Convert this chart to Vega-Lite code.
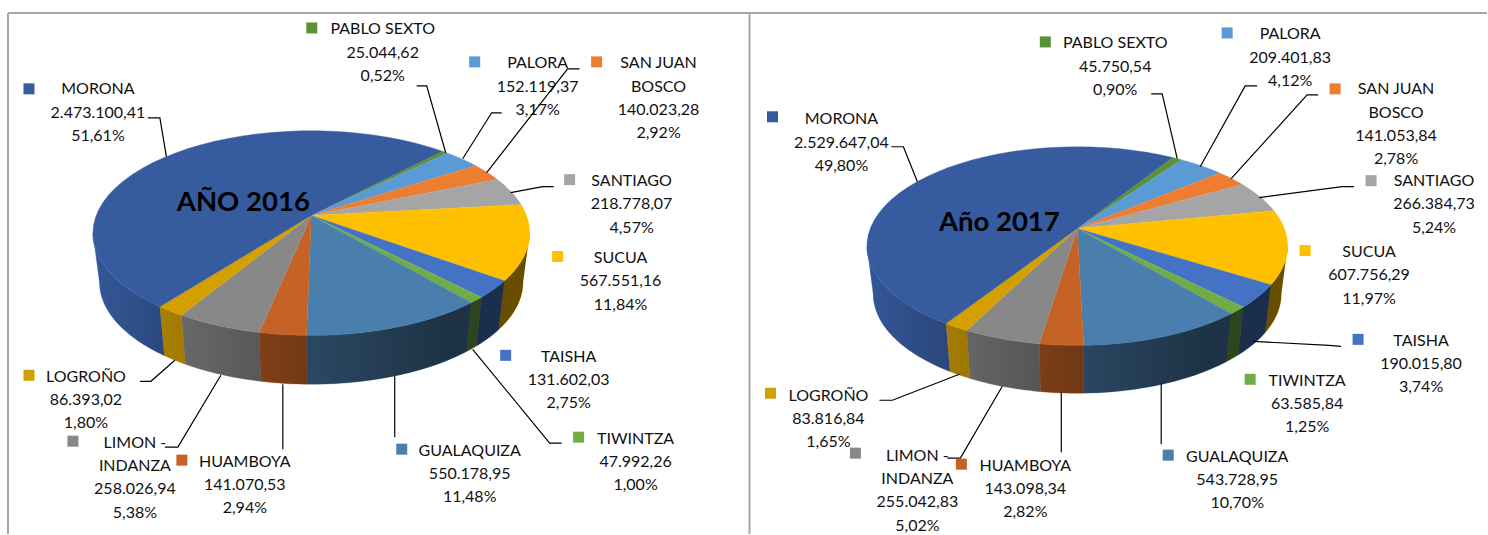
{"$schema":"https://vega.github.io/schema/vega-lite/v6.json","width":1488,"height":535,"padding":0,"autosize":{"type":"fit","contains":"padding"},"background":"white","config":{"view":{"stroke":null}},
"data":{"values":[
{"year":2016,"seq":0,"name":"PABLO SEXTO","value":25044.62,"pct":0.52},
{"year":2016,"seq":1,"name":"PALORA","value":152119.37,"pct":3.17},
{"year":2016,"seq":2,"name":"SAN JUAN BOSCO","value":140023.28,"pct":2.92},
{"year":2016,"seq":3,"name":"SANTIAGO","value":218778.07,"pct":4.57},
{"year":2016,"seq":4,"name":"SUCUA","value":567551.16,"pct":11.84},
{"year":2016,"seq":5,"name":"TAISHA","value":131602.03,"pct":2.75},
{"year":2016,"seq":6,"name":"TIWINTZA","value":47992.26,"pct":1.00},
{"year":2016,"seq":7,"name":"GUALAQUIZA","value":550178.95,"pct":11.48},
{"year":2016,"seq":8,"name":"HUAMBOYA","value":141070.53,"pct":2.94},
{"year":2016,"seq":9,"name":"LIMON - INDANZA","value":258026.94,"pct":5.38},
{"year":2016,"seq":10,"name":"LOGROÑO","value":86393.02,"pct":1.80},
{"year":2016,"seq":11,"name":"MORONA","value":2473100.41,"pct":51.61},
{"year":2017,"seq":0,"name":"PABLO SEXTO","value":45750.54,"pct":0.90},
{"year":2017,"seq":1,"name":"PALORA","value":209401.83,"pct":4.12},
{"year":2017,"seq":2,"name":"SAN JUAN BOSCO","value":141053.84,"pct":2.78},
{"year":2017,"seq":3,"name":"SANTIAGO","value":266384.73,"pct":5.24},
{"year":2017,"seq":4,"name":"SUCUA","value":607756.29,"pct":11.97},
{"year":2017,"seq":5,"name":"TAISHA","value":190015.80,"pct":3.74},
{"year":2017,"seq":6,"name":"TIWINTZA","value":63585.84,"pct":1.25},
{"year":2017,"seq":7,"name":"GUALAQUIZA","value":543728.95,"pct":10.70},
{"year":2017,"seq":8,"name":"HUAMBOYA","value":143098.34,"pct":2.82},
{"year":2017,"seq":9,"name":"LIMON - INDANZA","value":255042.83,"pct":5.02},
{"year":2017,"seq":10,"name":"LOGROÑO","value":83816.84,"pct":1.65},
{"year":2017,"seq":11,"name":"MORONA","value":2529647.04,"pct":49.80}
]},
"transform":[
{"joinaggregate":[{"op":"sum","field":"value","as":"total"}],"groupby":["year"]},
{"window":[{"op":"sum","field":"value","as":"cum"}],"sort":[{"field":"seq","order":"ascending"}],"groupby":["year"]},
{"calculate":"datum.year==2016?{cx:311.5,cy:216,A:215.3,B:99.5,k:0.1707,h:49,s:0.97,start:43.3}:{cx:1078,cy:229,A:207.2,B:96.4,k:0.176,h:48,s:0.97,start:32}","as":"g"},
{"calculate":"datum.g.start+360*(datum.cum-datum.value)/datum.total","as":"a0"},
{"calculate":"datum.g.start+360*datum.cum/datum.total","as":"a1"},
{"calculate":"acos(-datum.g.k)*180/PI","as":"fLo"},
{"calculate":"360-datum.fLo","as":"fHi"},
{"calculate":"(datum.year==2016?[[383,29,312,28,[[417,86],[427,86],[446,153]]],[538,63,475,62,[[502,113],[492,113],[463,159]]],[659,63,597,62,[[580,69],[568,69],[487,173]]],[632,181,570,180,[[554,187],[543,187],[511,193]]],[621,258,558,257,[]],[569,357,506,356,[]],[636,439,579,438,[[562,444],[550,444],[473,350]]],[470,451,402,450,[[395,377],[395,438]]],[245,462,182,461,[[283,385],[283,450]]],[135,443,73,442,[[165,448],[178,448],[221,376]]],[86,377,29,376,[[140,382],[151,382],[175,361]]],[98,89,29,89,[[148,118],[160,118],[166.5,157]]]]:[[1116,43,1046,42,[[1152,94],[1163,94],[1178,159]]],[1291,34,1228,33,[[1258,86],[1246,86],[1201,167]]],[1397,89,1336,89,[[1319,95],[1308,95],[1232,179]]],[1435,181,1372,181,[[1355,187],[1343,187],[1260,198]]],[1370,252,1306,251,[]],[1422,341,1359,340,[[1342,347],[1330,346],[1254,342]]],[1308,381,1251,380,[]],[1238,457,1169,456,[[1162,384],[1162,445]]],[1026,466,962,465,[[1062,393],[1062,453]]],[918,456,856,454,[[948,459],[961,459],[1003,387]]],[829,396,771,394,[[880,401],[893,401],[960,375]]],[842,119,773,117,[[892,147],[904,147],[918,182]]]])[datum.seq]","as":"L"}
],
"encoding":{
"x":{"type":"quantitative","scale":{"domain":[0,1488],"nice":false,"zero":false},"axis":null},
"y":{"type":"quantitative","scale":{"domain":[535,0],"nice":false,"zero":false},"axis":null}
},
"layer":[
{"transform":[
{"calculate":"max(datum.a0,datum.fLo)","as":"lo"},{"calculate":"min(datum.a1,datum.fHi)","as":"hi"},{"filter":"datum.lo<datum.hi"},
{"calculate":"sequence(0,62)","as":"i"},{"flatten":["i"]},
{"calculate":"datum.i<=30?datum.i/30:(61-datum.i)/30","as":"t"},
{"calculate":"(datum.lo+(datum.hi-datum.lo)*datum.t)*PI/180","as":"phi"},
{"calculate":"1+datum.g.k*cos(datum.phi)","as":"w"},
{"calculate":"datum.g.A*sin(datum.phi)/datum.w","as":"dx"},
{"calculate":"-datum.g.B*cos(datum.phi)/datum.w","as":"dy"},
{"calculate":"datum.g.cx+datum.dx*(datum.i<=30?1:datum.g.s)","as":"px"},
{"calculate":"datum.g.cy+datum.dy+(datum.i<=30?0:datum.g.h)","as":"py"}],
"mark":{"type":"line","strokeWidth":0.4,"interpolate":"linear"},
"encoding":{"x":{"field":"px","type":"quantitative"},"y":{"field":"py","type":"quantitative"},"order":{"field":"i","type":"quantitative"},"detail":{"field":"year","type":"nominal"},
"fill":{"field":"name","type":"nominal","legend":null,"scale":{"domain":["MORONA","PABLO SEXTO","PALORA","SAN JUAN BOSCO","SANTIAGO","SUCUA","TAISHA","TIWINTZA","GUALAQUIZA","HUAMBOYA","LIMON - INDANZA","LOGROÑO"],"range":["#365c9f","#5b9237","#5b9bd5","#ed7d31","#a5a5a5","#ffc000","#4472c4","#70ad47","#4a7ead","#c56225","#888888","#d4a000"]}},
"stroke":{"field":"name","type":"nominal","legend":null,"scale":{"domain":["MORONA","PABLO SEXTO","PALORA","SAN JUAN BOSCO","SANTIAGO","SUCUA","TAISHA","TIWINTZA","GUALAQUIZA","HUAMBOYA","LIMON - INDANZA","LOGROÑO"],"range":["#365c9f","#5b9237","#5b9bd5","#ed7d31","#a5a5a5","#ffc000","#4472c4","#70ad47","#4a7ead","#c56225","#888888","#d4a000"]}}}},
{"transform":[{"filter":"datum.seq==0"},
{"calculate":"sequence(0,122)","as":"i"},{"flatten":["i"]},
{"calculate":"datum.i<=60?datum.i/60:(121-datum.i)/60","as":"t"},
{"calculate":"(datum.fLo+(datum.fHi-datum.fLo)*datum.t)*PI/180","as":"phi"},
{"calculate":"1+datum.g.k*cos(datum.phi)","as":"w"},
{"calculate":"datum.g.A*sin(datum.phi)/datum.w","as":"dx"},
{"calculate":"-datum.g.B*cos(datum.phi)/datum.w","as":"dy"},
{"calculate":"datum.g.cx+datum.dx*(datum.i<=60?1:datum.g.s)","as":"px"},
{"calculate":"datum.g.cy+datum.dy+(datum.i<=60?0:datum.g.h)","as":"py"}],
"mark":{"type":"line","strokeWidth":0},
"encoding":{"x":{"field":"px","type":"quantitative"},"y":{"field":"py","type":"quantitative"},"order":{"field":"i","type":"quantitative"},"detail":{"field":"year","type":"nominal"},
"fill":{"value":{"x1":0,"y1":0,"x2":1,"y2":0,"gradient":"linear","stops":[{"offset":0,"color":"rgba(0,0,0,0.05)"},{"offset":0.15,"color":"rgba(0,0,0,0.2)"},{"offset":0.45,"color":"rgba(0,0,0,0.4)"},{"offset":0.8,"color":"rgba(0,0,0,0.6)"},{"offset":1,"color":"rgba(0,0,0,0.6)"}]}}}},
{"transform":[
{"calculate":"sequence(0,42)","as":"i"},{"flatten":["i"]},
{"calculate":"(datum.a0+(datum.a1-datum.a0)*(datum.i-1)/40)*PI/180","as":"phi"},
{"calculate":"1+datum.g.k*cos(datum.phi)","as":"w"},
{"calculate":"datum.i==0?datum.g.cx:datum.g.cx+datum.g.A*sin(datum.phi)/datum.w","as":"px"},
{"calculate":"datum.i==0?datum.g.cy:datum.g.cy-datum.g.B*cos(datum.phi)/datum.w","as":"py"}],
"mark":{"type":"line","strokeWidth":0.4},
"encoding":{"x":{"field":"px","type":"quantitative"},"y":{"field":"py","type":"quantitative"},"order":{"field":"i","type":"quantitative"},"detail":{"field":"year","type":"nominal"},
"fill":{"field":"name","type":"nominal","legend":null},"stroke":{"field":"name","type":"nominal","legend":null}}},
{"transform":[{"calculate":"datum.L[4]","as":"lead"},{"filter":"length(datum.lead)>0"},{"calculate":"sequence(0,length(datum.lead))","as":"i"},{"flatten":["i"]},{"calculate":"datum.lead[datum.i][0]","as":"px"},{"calculate":"datum.lead[datum.i][1]","as":"py"}],
"mark":{"type":"line","color":"black","strokeWidth":1.2},
"encoding":{"x":{"field":"px","type":"quantitative"},"y":{"field":"py","type":"quantitative"},"order":{"field":"i","type":"quantitative"},"detail":[{"field":"year","type":"nominal"},{"field":"seq","type":"nominal"}]}},
{"transform":[{"calculate":"datum.L[0]","as":"px"},{"calculate":"datum.L[1]","as":"py"},
{"calculate":"replace(replace(replace(format(datum.value,',.2f'),/,/g,'_'),/\\./g,','),/_/g,'.')","as":"vt"},
{"calculate":"replace(format(datum.pct,'.2f'),'.',',')+'%'","as":"pt"},
{"calculate":"replace(replace(datum.name,'JUAN ','JUAN\\n'),'- ','-\\n')+'\\n'+datum.vt+'\\n'+datum.pt","as":"label"}],
"mark":{"type":"text","font":"Lato","fontSize":16,"lineBreak":"\n","lineHeight":23.3,"align":"center","baseline":"alphabetic","yOffset":5.5,"color":"#111111"},
"encoding":{"x":{"field":"px","type":"quantitative"},"y":{"field":"py","type":"quantitative"},"text":{"field":"label","type":"nominal"}}},
{"transform":[{"calculate":"datum.L[2]","as":"px"},{"calculate":"datum.L[3]","as":"py"}],
"mark":{"type":"point","shape":"square","filled":true,"size":121,"opacity":1,"strokeWidth":0},
"encoding":{"x":{"field":"px","type":"quantitative"},"y":{"field":"py","type":"quantitative"},"fill":{"field":"name","type":"nominal","legend":null}}},
{"transform":[{"filter":"datum.seq==0"},{"calculate":"datum.year==2016?'AÑO 2016':'Año 2017'","as":"tt"},{"calculate":"datum.year==2016?243.5:1000","as":"px"},{"calculate":"datum.year==2016?203:223","as":"py"}],
"mark":{"type":"text","font":"Lato","fontWeight":"bold","fontSize":27.5,"align":"center","baseline":"middle","color":"black"},
"encoding":{"x":{"field":"px","type":"quantitative"},"y":{"field":"py","type":"quantitative"},"text":{"field":"tt","type":"nominal"}}},
{"transform":[{"filter":"datum.seq==0&&datum.year==2016"}],"mark":{"type":"rule","color":"#a6a6a6","strokeWidth":2},"encoding":{"x":{"datum":8},"y":{"datum":13},"y2":{"datum":535}}},
{"transform":[{"filter":"datum.seq==0&&datum.year==2016"}],"mark":{"type":"rule","color":"#a6a6a6","strokeWidth":2},"encoding":{"x":{"datum":750},"y":{"datum":13},"y2":{"datum":535}}},
{"transform":[{"filter":"datum.seq==0&&datum.year==2016"}],"mark":{"type":"rule","color":"#a6a6a6","strokeWidth":2},"encoding":{"x":{"datum":8},"x2":{"datum":1488},"y":{"datum":13}}}
]}
